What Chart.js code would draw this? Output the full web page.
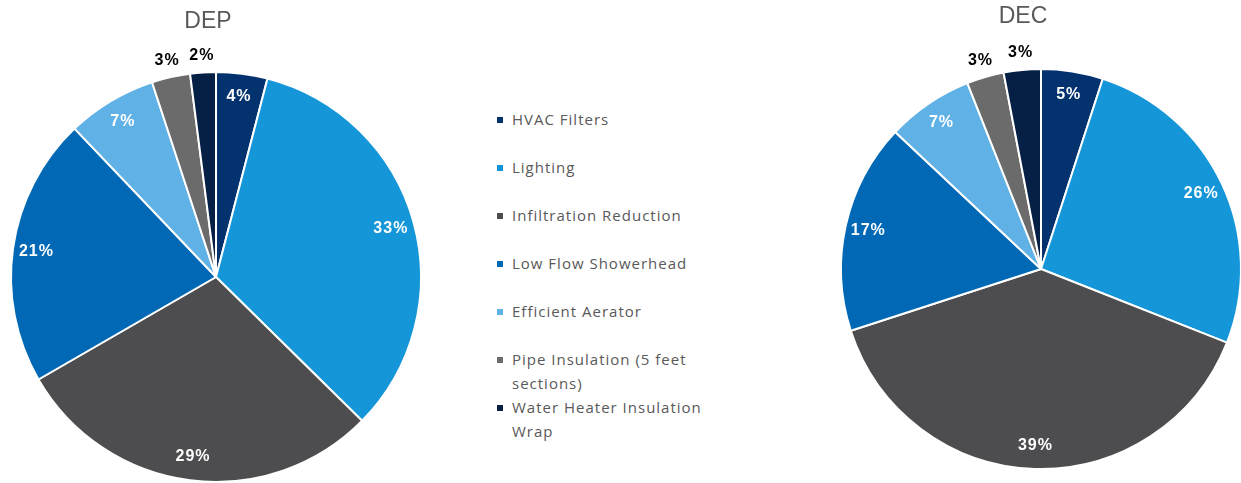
<!DOCTYPE html>
<html>
<head>
<meta charset="utf-8">
<title>DEP / DEC measure share</title>
<script src="https://cdn.jsdelivr.net/npm/chart.js@4/dist/chart.umd.min.js"></script>
<style>
  html, body { margin: 0; padding: 0; background: #fff; }
  body { position: relative; width: 1241px; height: 483px; overflow: hidden; }
  .pieBox { position: absolute; top: 0; }
  #depBox { left: 0; width: 432px; height: 554px; }
  #decBox { left: 831px; width: 420px; height: 538px; }
  #legend { position: absolute; left: 497px; top: 0; font: 15px 'Open Sans', sans-serif; letter-spacing: 1px; color: #595959; }
  #legend .item { position: absolute; left: 0; white-space: nowrap; line-height: 23.5px; padding-left: 15px; }
  #legend .swatch { position: absolute; left: 0; top: 9px; width: 6px; height: 6px; }
</style>
</head>
<body>
<div class="pieBox" id="depBox"><canvas id="depChart"></canvas></div>
<div id="legend"></div>
<div class="pieBox" id="decBox"><canvas id="decChart"></canvas></div>

<script>
// ---- data ----
const measures = [
  'HVAC Filters',
  'Lighting',
  'Infiltration Reduction',
  'Low Flow Showerhead',
  'Efficient Aerator',
  ['Pipe Insulation (5 feet', 'sections)'],
  ['Water Heater Insulation', 'Wrap']
];
const depShare = [4, 33, 29, 21, 7, 3, 2];
const decShare = [5, 26, 39, 17, 7, 3, 3];

const sliceColors = [
  '#04326F',  // HVAC Filters
  '#1496D8',  // Lighting
  '#4D4D4F',  // Infiltration Reduction
  '#0068B4',  // Low Flow Showerhead
  '#5FB1E6',  // Efficient Aerator
  '#6B6B6B',  // Pipe Insulation
  '#061F45'   // Water Heater Insulation Wrap
];

// percent labels (white inside, black outside for thin slices) + heading
const sliceLabels = {
  id: 'sliceLabels',
  afterDatasetsDraw(chart, args, opts) {
    const ctx = chart.ctx;
    const meta = chart.getDatasetMeta(0);
    const values = chart.data.datasets[0].data;
    ctx.save();
    ctx.textAlign = 'center';
    ctx.textBaseline = 'middle';
    ctx.font = 'bold 16px "Liberation Sans"';
    ctx.letterSpacing = '1px';
    meta.data.forEach((arc, i) => {
      const p = arc.getProps(['x', 'y', 'startAngle', 'endAngle', 'outerRadius'], true);
      const mid = (p.startAngle + p.endAngle) / 2;
      const outside = values[i] < opts.insideMin;
      const dist = outside ? p.outerRadius + opts.outsideGap : p.outerRadius * opts.insideRatio;
      ctx.fillStyle = outside ? '#000' : '#fff';
      ctx.fillText(values[i] + '%', p.x + Math.cos(mid) * dist, p.y + Math.sin(mid) * dist);
    });

    const area = chart.chartArea;
    ctx.letterSpacing = '0px';
    ctx.font = '23px "Liberation Sans"';
    ctx.fillStyle = '#595959';
    ctx.fillText(opts.heading, (area.left + area.right) / 2 + opts.headingDx, opts.headingY);
    ctx.restore();
  }
};

function makePie(canvasId, values, radius, heading, headingDx, headingY) {
  return new Chart(document.getElementById(canvasId), {
    type: 'pie',
    data: {
      labels: measures,
      datasets: [{
        data: values,
        backgroundColor: sliceColors,
        borderColor: '#fff',
        borderWidth: 2,
        hoverOffset: 0
      }]
    },
    options: {
      responsive: true,
      maintainAspectRatio: false,
      animation: false,
      radius: radius,
      plugins: {
        legend: { display: false },
        tooltip: { enabled: false },
        sliceLabels: {
          insideMin: 4,
          insideRatio: 0.885,
          outsideGap: 17,
          heading: heading,
          headingDx: headingDx,
          headingY: headingY
        }
      }
    },
    plugins: [sliceLabels]
  });
}

const depChart = makePie('depChart', depShare, 205, 'DEP', -8, 22);
const decChart = makePie('decChart', decShare, 200, 'DEC', -18, 17);

// ---- shared legend, built from the chart's own legend items ----
const legendEl = document.getElementById('legend');
const items = depChart.options.plugins.legend.labels.generateLabels(depChart);
items.forEach((item, i) => {
  const row = document.createElement('div');
  row.className = 'item';
  row.style.top = (108 + 48 * i) + 'px';
  const sw = document.createElement('span');
  sw.className = 'swatch';
  sw.style.background = item.fillStyle;
  row.appendChild(sw);
  const lines = Array.isArray(item.text) ? item.text : [item.text];
  lines.forEach((line, j) => {
    if (j > 0) row.appendChild(document.createElement('br'));
    row.appendChild(document.createTextNode(line));
  });
  legendEl.appendChild(row);
});
</script>
</body>
</html>
